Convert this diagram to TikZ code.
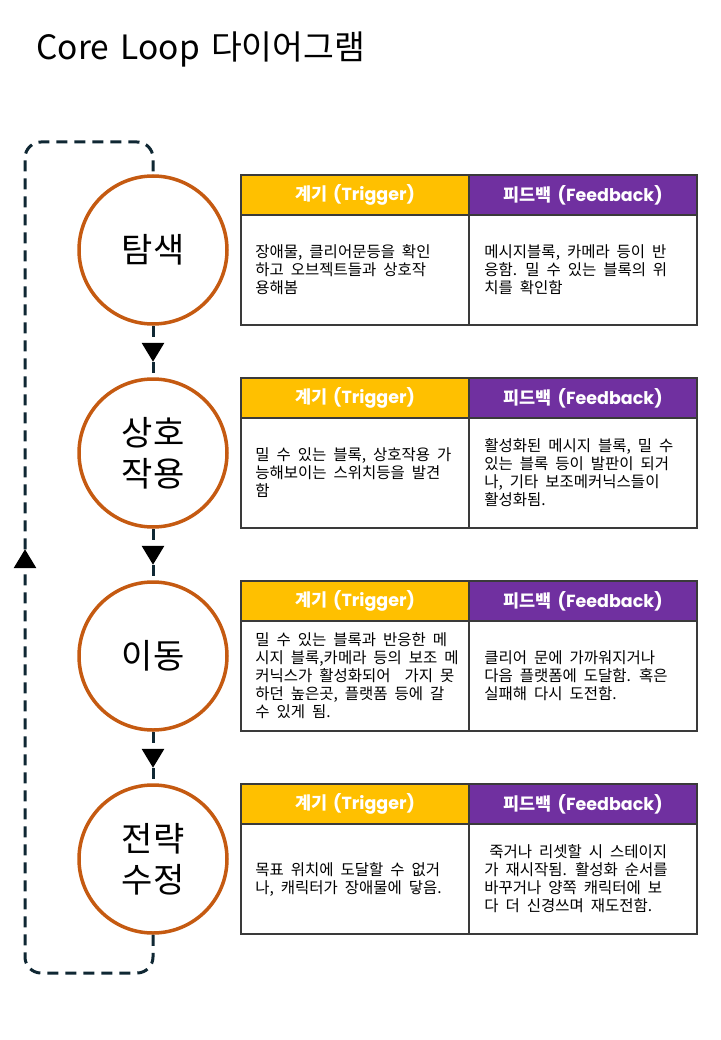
\documentclass[tikz,border=0pt]{standalone}
\usepackage{fontspec}
\setmainfont{Noto Sans CJK KR}[WordSpace=1.5]
\newfontfamily\bodyfont{Noto Sans CJK KR}[WordSpace=2]
\newfontfamily\popfont{Poppins}
\usetikzlibrary{arrows.meta,decorations.markings}
\definecolor{stageline}{HTML}{C55A11}
\definecolor{loopline}{HTML}{0F2733}
\definecolor{trigfill}{HTML}{FFC000}
\definecolor{feedfill}{HTML}{7030A0}
\definecolor{cellline}{HTML}{3A3A3A}
\tikzset{
  stage/.style={circle,draw=stageline,line width=3.5pt,minimum size=148pt,inner sep=0pt,
    align=center,font=\fontsize{34}{41}\selectfont},
  head/.style={rectangle,draw=cellline,line width=1.5pt,minimum width=228pt,minimum height=40pt,
    inner sep=0pt,text=white,font=\bfseries\fontsize{17.5}{20}\selectfont},
  cell/.style={rectangle,draw=cellline,line width=1.5pt,minimum width=228pt,minimum height=110pt,inner sep=0pt},
  celltext/.style={anchor=west,align=left,inner sep=0pt,font=\bodyfont\fontsize{15.5}{18}\selectfont},
  flow/.style={draw=loopline,line width=3pt,dash pattern=on 11pt off 7pt,postaction={decorate},
    decoration={markings,mark=at position #1 with {\arrow[black]{Triangle[width=22pt,length=19pt]}}}},
  flow/.default=0.7
}
\begin{document}
\begin{tikzpicture}[x=1pt,y=-1pt]
\useasboundingbox (0,0) rectangle (720,1040);
\node [anchor=base west,font=\fontsize{33.5}{38}\selectfont] (title) at (33,60) {Core Loop 다이어그램};
%
\begin{scope}[yshift=0pt]
\node [stage] (s1) at (153,250) {탐색};
\node [head,fill=trigfill] (h1t) at (355,195) {계기 {\popfont(Trigger)}};
\node [head,fill=feedfill] (h1f) at (583,195) {피드백 {\popfont(Feedback)}};
\node [cell] (c1t) at (355,270) {};
\node [cell] (c1f) at (583,270) {};
\node [celltext] (t1) at ([xshift=15pt]c1t.west) {장애물, 클리어문등을 확인\\하고 오브젝트들과 상호작\\용해봄};
\node [celltext] (f1) at ([xshift=16pt]c1f.west) {메시지블록, 카메라 등이 반\\응함. 밀 수 있는 블록의 위\\치를 확인함};
\end{scope}
%
\begin{scope}[yshift=-203pt]
\node [stage] (s2) at (153,250) {상호\\작용};
\node [head,fill=trigfill] (h2t) at (355,195) {계기 {\popfont(Trigger)}};
\node [head,fill=feedfill] (h2f) at (583,195) {피드백 {\popfont(Feedback)}};
\node [cell] (c2t) at (355,270) {};
\node [cell] (c2f) at (583,270) {};
\node [celltext] (t2) at ([xshift=15pt]c2t.west) {밀 수 있는 블록, 상호작용 가\\능해보이는 스위치등을 발견\\함};
\node [celltext] (f2) at ([xshift=16pt]c2f.west) {활성화된 메시지 블록, 밀 수\\있는 블록 등이 발판이 되거\\나, 기타 보조메커닉스들이\\활성화됨.};
\end{scope}
%
\begin{scope}[yshift=-406pt]
\node [stage] (s3) at (153,250) {이동};
\node [head,fill=trigfill] (h3t) at (355,195) {계기 {\popfont(Trigger)}};
\node [head,fill=feedfill] (h3f) at (583,195) {피드백 {\popfont(Feedback)}};
\node [cell] (c3t) at (355,270) {};
\node [cell] (c3f) at (583,270) {};
\node [celltext] (t3) at ([xshift=15pt]c3t.west) {밀 수 있는 블록과 반응한 메\\시지 블록,카메라 등의 보조 메\\커닉스가 활성화되어\ \ 가지 못\\하던 높은곳, 플랫폼 등에 갈\\수 있게 됨.};
\node [celltext] (f3) at ([xshift=16pt]c3f.west) {클리어 문에 가까워지거나\\다음 플랫폼에 도달함. 혹은\\실패해 다시 도전함.};
\end{scope}
%
\begin{scope}[yshift=-609pt]
\node [stage] (s4) at (153,250) {전략\\수정};
\node [head,fill=trigfill] (h4t) at (355,195) {계기 {\popfont(Trigger)}};
\node [head,fill=feedfill] (h4f) at (583,195) {피드백 {\popfont(Feedback)}};
\node [cell] (c4t) at (355,270) {};
\node [cell] (c4f) at (583,270) {};
\node [celltext] (t4) at ([xshift=15pt]c4t.west) {목표 위치에 도달할 수 없거\\나, 캐릭터가 장애물에 닿음.};
\node [celltext] (f4) at ([xshift=16pt]c4f.west) {\hspace*{5pt}죽거나 리셋할 시 스테이지\\가 재시작됨. 활성화 순서를\\바꾸거나 양쪽 캐릭터에 보\\다 더 신경쓰며 재도전함.};
\end{scope}
%
\draw [flow] (s1) -- (s2);
\draw [flow] (s2) -- (s3);
\draw [flow] (s3) -- (s4);
\coordinate (lb) at (25,973);
\coordinate (lt) at (25,142);
\draw [flow=0.51,rounded corners=16pt] (s4) |- (lb) -- (lt) -| (s1);
\end{tikzpicture}
\end{document}
